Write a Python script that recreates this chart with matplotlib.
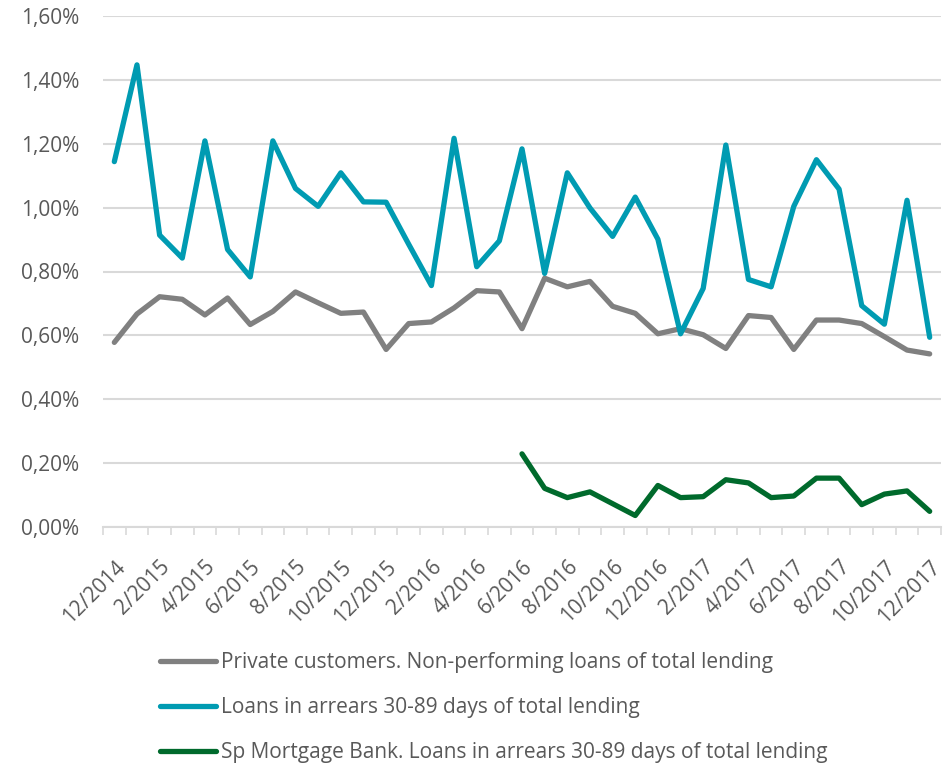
#!/usr/bin/env python3
"""Loans in arrears and non-performing loans, monthly 12/2014 - 12/2017."""

import matplotlib

matplotlib.use("Agg")
import matplotlib.pyplot as plt
from matplotlib.ticker import FuncFormatter

# monthly periods, 12/2014 .. 12/2017
MONTHS = [f"{m}/{y}" for y, ms in ((2014, [12]), (2015, range(1, 13)),
                                     (2016, range(1, 13)), (2017, range(1, 13)))
          for m in ms]

NON_PERFORMING = [
    0.578, 0.667, 0.721, 0.713, 0.664, 0.717, 0.634, 0.675, 0.736, 0.702,
    0.669, 0.673, 0.556, 0.637, 0.642, 0.686, 0.740, 0.736, 0.621, 0.779,
    0.752, 0.769, 0.691, 0.669, 0.605, 0.621, 0.602, 0.559, 0.662, 0.656,
    0.556, 0.648, 0.648, 0.637, 0.596, 0.554, 0.542,
]
ARREARS = [
    1.144, 1.447, 0.914, 0.842, 1.209, 0.869, 0.783, 1.209, 1.060, 1.004,
    1.109, 1.018, 1.017, 0.885, 0.756, 1.217, 0.815, 0.896, 1.184, 0.794,
    1.109, 0.999, 0.910, 1.033, 0.901, 0.605, 0.747, 1.196, 0.775, 0.752,
    1.004, 1.150, 1.058, 0.693, 0.635, 1.023, 0.594,
]
# Sp Mortgage Bank series starts 6/2016
MORTGAGE_START = 18
MORTGAGE = [
    0.229, 0.121, 0.092, 0.110, 0.073, 0.036, 0.130, 0.092, 0.095, 0.148,
    0.138, 0.092, 0.097, 0.153, 0.153, 0.070, 0.103, 0.113, 0.049,
]

LABELS = [
    "Private customers. Non-performing loans of total lending",
    "Loans in arrears 30-89 days of total lending",
    "Sp Mortgage Bank. Loans in arrears 30-89 days of total lending",
]
Y_TICKS = [0.0, 0.2, 0.4, 0.6, 0.8, 1.0, 1.2, 1.4, 1.6]

TEXT = "#595959"
GRID = "#D9D9D9"

plt.rcParams["font.family"] = ["Open Sans", "DejaVu Sans"]

fig = plt.figure(figsize=(9.46, 7.63), dpi=100)
ax = fig.add_axes([103 / 946, 1 - 527 / 763, (941 - 103) / 946, (527 - 16) / 763])

x = list(range(len(MONTHS)))
kw = dict(linewidth=3.8, solid_capstyle="round", solid_joinstyle="round")
ax.plot(x, NON_PERFORMING, color="#808080", label=LABELS[0], **kw)
ax.plot(x, ARREARS, color="#009BB2", label=LABELS[1], **kw)
ax.plot(x[MORTGAGE_START:MORTGAGE_START + len(MORTGAGE)], MORTGAGE,
        color="#006A2C", label=LABELS[2], **kw)

ax.set_xlim(-0.5, len(MONTHS) - 0.5)
ax.set_ylim(0, 1.6)
ax.set_yticks(Y_TICKS)
ax.yaxis.set_major_formatter(
    FuncFormatter(lambda v, _: f"{v:.2f}%".replace(".", ",")))
ax.grid(axis="y", color=GRID, linewidth=1.5)
ax.set_axisbelow(True)

ax.set_xticks(x[::2])
ax.set_xticklabels(MONTHS[::2], rotation=45, ha="right",
                   rotation_mode="anchor")
ax.set_xticks([i - 0.5 for i in range(len(MONTHS) + 1)], minor=True)
ax.tick_params(axis="x", which="major", length=0, pad=21,
               labelsize=15, labelcolor=TEXT)
ax.tick_params(axis="x", which="minor", length=6, width=1.2, color=GRID)
ax.tick_params(axis="y", length=0, pad=17, labelsize=15, labelcolor=TEXT)

for side in ("top", "right", "left"):
    ax.spines[side].set_visible(False)
ax.spines["bottom"].set_color(GRID)
ax.spines["bottom"].set_linewidth(1.5)

fig.legend(loc="upper left", bbox_to_anchor=(152 / 946, 1 - 644 / 763),
           frameon=False, fontsize=15, labelcolor=TEXT,
           handlelength=2.65, handletextpad=0.25, labelspacing=1.15,
           borderaxespad=0)

fig.savefig("out.png", dpi=100)
